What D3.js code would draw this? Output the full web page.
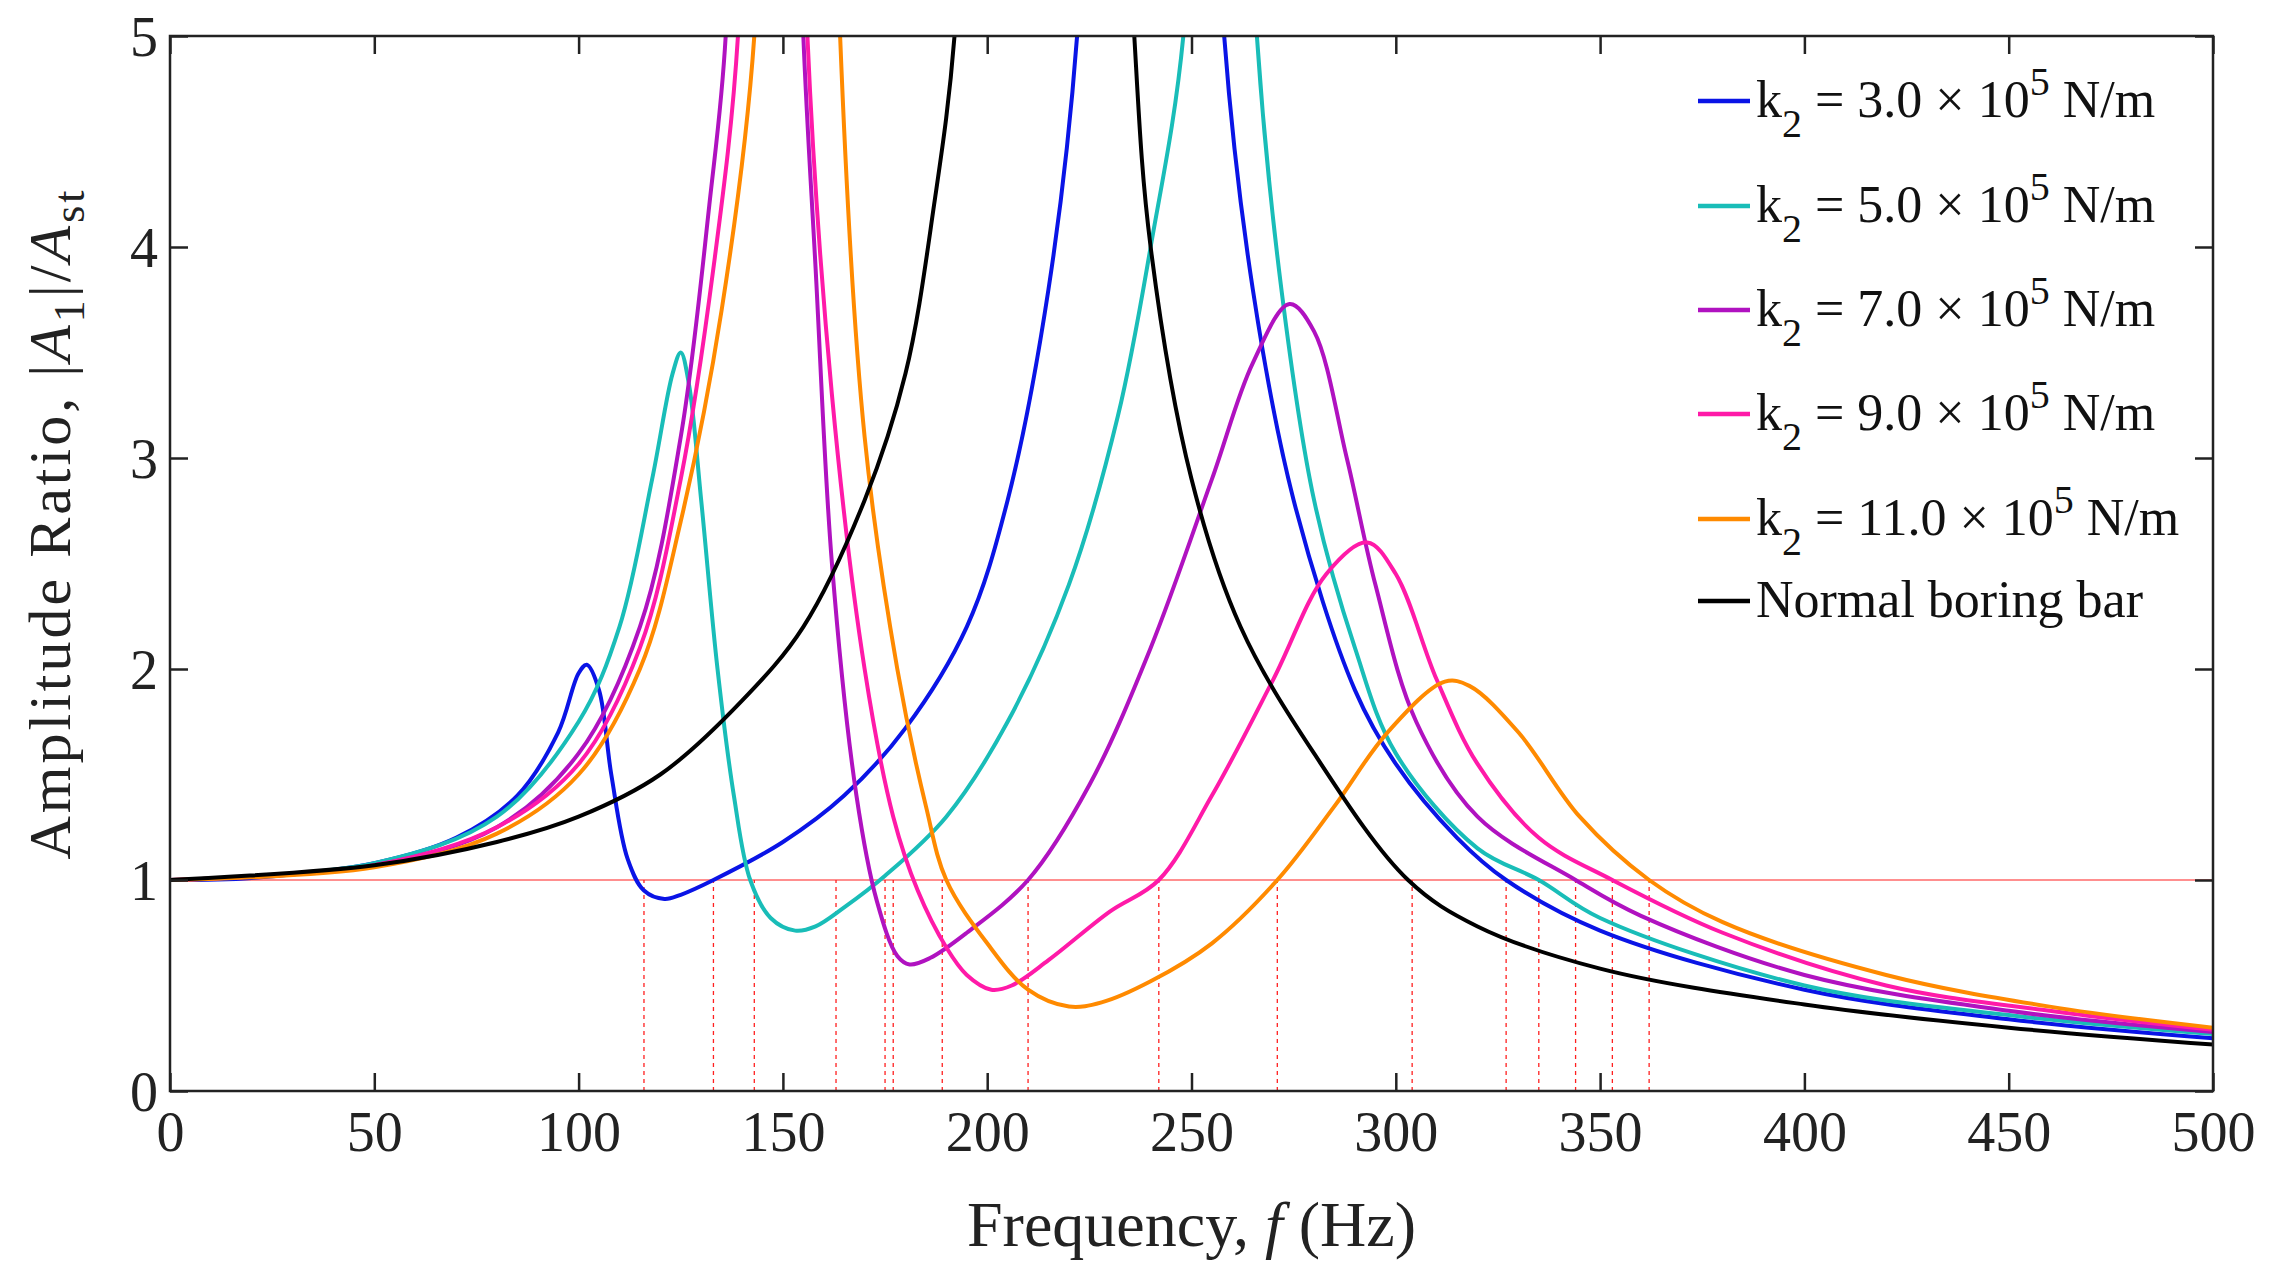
<!DOCTYPE html><html><head><meta charset="utf-8">
<script src="https://cdn.jsdelivr.net/npm/d3@7"></script>
<style>body{margin:0;background:#fff}svg text{font-family:"Liberation Serif","Times New Roman",serif}</style></head><body>
<svg id="c" width="2272" height="1273"></svg>
<script>
const xTicks=[0,50,100,150,200,250,300,350,400,450,500];
const yTicks=[0,1,2,3,4,5];
const labels=["k2 = 3.0×10^5 N/m","k2 = 5.0×10^5 N/m","k2 = 7.0×10^5 N/m","k2 = 9.0×10^5 N/m","k2 = 11.0×10^5 N/m","Normal boring bar"];
const colors=["#0a14e6","#19bdb8","#b012c0","#ff1aa8","#ff8a00","#000000"];
const blue=[[0,1],[20,1.01],[50,1.08],[70,1.2],[85,1.4],[95,1.7],[100,1.98],[102,2.02],[105,1.9],[108,1.5],[112,1.1],[116,0.95],[121,0.91],[125,0.93],[133,1.0],[150,1.18],[165,1.4],[180,1.72],[195,2.2],[205,2.8],[215,3.8],[222,5],[226,7],[254,7],[258,5],[265,3.8],[275,2.8],[290,1.9],[300,1.55],[315,1.2],[327,1.0],[350,0.76],[400,0.48],[450,0.34],[500,0.25]];
const cyan=[[0,1],[50,1.08],[80,1.3],[100,1.75],[110,2.2],[118,2.9],[123,3.4],[125,3.5],[127,3.35],[130,2.8],[134,2.0],[138,1.4],[142,1.0],[147,0.82],[153,0.76],[158,0.78],[165,0.87],[175,1.02],[190,1.3],[205,1.75],[220,2.4],[232,3.2],[240,4.0],[248,5],[252,7],[262,7],[266,5],[272,3.8],[280,2.8],[290,2.1],[300,1.6],[320,1.15],[335,1.0],[350,0.82],[400,0.5],[450,0.36],[500,0.27]];
const purple=[[0,1],[50,1.07],[80,1.25],[100,1.6],[115,2.2],[125,3.1],[132,4.2],[136,5],[138,7],[152,7],[155,5],[158,3.9],[162,2.5],[168,1.4],[173,0.9],[178,0.64],[181,0.6],[186,0.63],[195,0.75],[210,1.0],[225,1.45],[240,2.1],[255,2.9],[265,3.45],[274,3.73],[280,3.6],[288,3.0],[295,2.4],[305,1.75],[320,1.3],[344,1.0],[360,0.83],[400,0.55],[450,0.38],[500,0.28]];
const pink=[[0,1],[50,1.07],[80,1.25],[100,1.55],[115,2.1],[125,2.9],[133,3.9],[139,5],[141,7],[154,7],[156,5],[162,3.3],[170,2.0],[177,1.3],[183,0.95],[190,0.68],[195,0.55],[201,0.48],[206,0.5],[215,0.62],[230,0.85],[242,1.0],[255,1.4],[270,1.95],[283,2.45],[293,2.6],[300,2.45],[310,1.95],[320,1.55],[335,1.2],[353,1.0],[380,0.75],[420,0.5],[460,0.38],[500,0.29]];
const orange=[[0,1],[50,1.06],[80,1.22],[100,1.5],[115,2.0],[125,2.7],[135,3.7],[143,5],[145,7],[162,7],[164,5],[170,3.1],[178,2.0],[185,1.35],[190,1.0],[200,0.7],[210,0.48],[220,0.4],[228,0.42],[240,0.52],[255,0.7],[271,1.0],[285,1.35],[298,1.7],[312,1.94],[318,1.92],[330,1.7],[345,1.3],[362,1.0],[380,0.8],[420,0.55],[460,0.4],[500,0.3]];
const black=[[0,1],[50,1.07],[80,1.18],[100,1.3],[120,1.5],[140,1.85],[155,2.2],[170,2.8],[180,3.4],[187,4.2],[192,5],[196,7],[232,7],[236,5],[240,4.0],[250,2.9],[262,2.2],[280,1.6],[303,1.0],[320,0.78],[350,0.58],[400,0.41],[450,0.3],[500,0.22]];
const series=[blue,cyan,purple,pink,orange,black];
const crossings=[116,133,143,163,175,177,189,210,242,271,304,327,335,344,353,362];

const svg=d3.select("#c");
const L=170,R=2213,T=36,B=1091;
const x=d3.scaleLinear().domain([0,500]).range([L,R]);
const y=d3.scaleLinear().domain([0,5]).range([B,T]);
svg.append("defs").append("clipPath").attr("id","clip").append("rect").attr("x",L).attr("y",T).attr("width",R-L).attr("height",B-T);
const g=svg.append("g").attr("clip-path","url(#clip)");
g.append("line").attr("x1",x(0)).attr("x2",x(500)).attr("y1",y(1)).attr("y2",y(1)).attr("stroke","#ff2020").attr("stroke-width",1.2);
g.selectAll(".v").data(crossings).enter().append("line").attr("x1",d=>x(d)).attr("x2",d=>x(d)).attr("y1",y(0)).attr("y2",y(1)).attr("stroke","#ff2020").attr("stroke-width",1.3).attr("stroke-dasharray","4,4");
const line=d3.line().x(d=>x(d[0])).y(d=>y(d[1])).curve(d3.curveCatmullRom.alpha(0.5));
series.forEach((s,i)=>g.append("path").attr("d",line(s)).attr("fill","none").attr("stroke",colors[i]).attr("stroke-width",4));
svg.append("rect").attr("x",L).attr("y",T).attr("width",R-L).attr("height",B-T).attr("fill","none").attr("stroke","#222").attr("stroke-width",2.5);
const fmt=d3.format("d");
const ax=svg.append("g").attr("transform",`translate(0,${B})`).call(d3.axisBottom(x).tickValues(xTicks).tickSize(-18).tickPadding(20).tickFormat(fmt));
const axT=svg.append("g").attr("transform",`translate(0,${T})`).call(d3.axisTop(x).tickValues(xTicks).tickSize(-18).tickFormat(""));
const ay=svg.append("g").attr("transform",`translate(${L},0)`).call(d3.axisLeft(y).tickValues(yTicks).tickSize(-18).tickPadding(12).tickFormat(fmt));
const ayR=svg.append("g").attr("transform",`translate(${R},0)`).call(d3.axisRight(y).tickValues(yTicks).tickSize(-18).tickFormat(""));
[ax,axT,ay,ayR].forEach(a=>{a.select(".domain").remove();a.selectAll("line").attr("stroke","#222").attr("stroke-width",2.5);a.selectAll("text").attr("font-size",56).attr("fill","#222").attr("font-family","Liberation Serif");});
ay.selectAll("text").attr("dy","0.35em");
const xt=svg.append("text").attr("x",(L+R)/2).attr("y",1246).attr("text-anchor","middle").attr("font-size",64).attr("fill","#222");
xt.append("tspan").text("Frequency, ");xt.append("tspan").attr("font-style","italic").text("f");xt.append("tspan").text(" (Hz)");
const yt=svg.append("text").attr("transform",`translate(70,${(T+B)/2-40}) rotate(-90)`).attr("text-anchor","middle").attr("font-size",60).attr("letter-spacing",3).attr("fill","#222");
yt.append("tspan").text("Amplitude Ratio, |");yt.append("tspan").attr("font-style","italic").text("A");yt.append("tspan").attr("font-size",44).attr("dy",14).text("1");
yt.append("tspan").attr("dy",-14).text("|/");yt.append("tspan").attr("font-style","italic").text("A");yt.append("tspan").attr("font-size",44).attr("dy",14).text("st");
const ly=[101,206,310,414,519,601];
labels.forEach((lab,i)=>{
  const yy=ly[i];
  svg.append("line").attr("x1",1698).attr("x2",1750).attr("y1",yy).attr("y2",yy).attr("stroke",colors[i]).attr("stroke-width",4.5);
  const t=svg.append("text").attr("x",1756).attr("y",yy+16).attr("font-size",52).attr("fill","#111");
  if(i<5){
    const m=lab.match(/k2 = (.*)×10\^5 N\/m/);
    t.append("tspan").text("k");t.append("tspan").attr("dy",20).attr("font-size",40).text("2");
    t.append("tspan").attr("dy",-20).text(" = "+m[1]+" × 10");t.append("tspan").attr("dy",-22).attr("font-size",40).text("5");
    t.append("tspan").attr("dy",22).text(" N/m");
  } else t.text(lab);
});
</script></body></html>
